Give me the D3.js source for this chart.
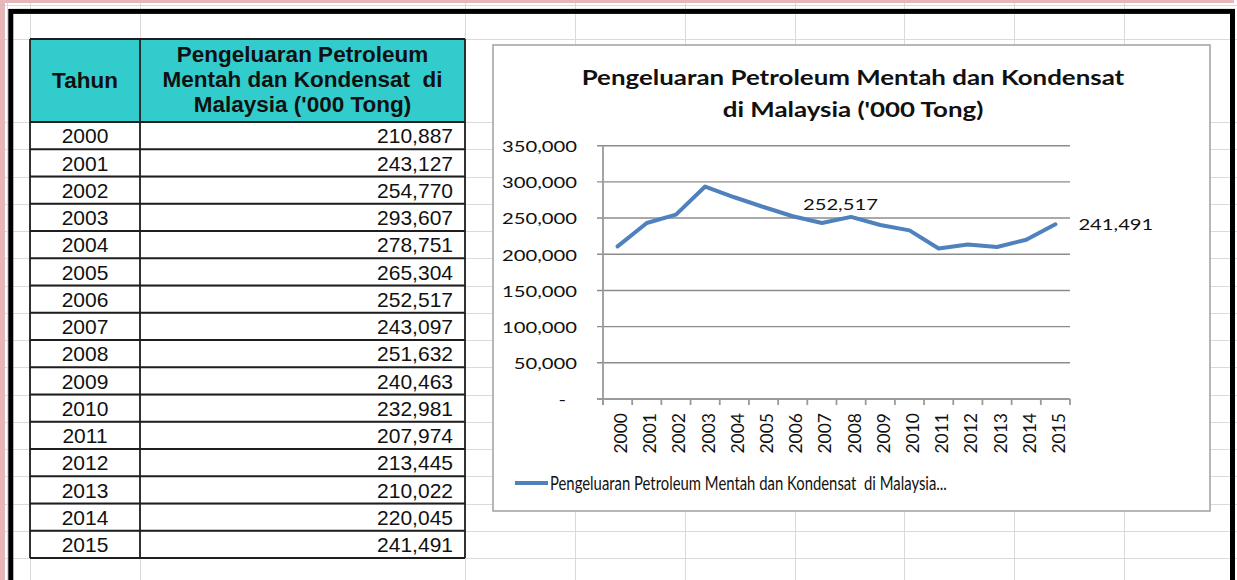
<!DOCTYPE html>
<html><head><meta charset="utf-8">
<script src="https://cdn.jsdelivr.net/npm/d3@7"></script>
<style>body{margin:0;background:#fff;} svg{display:block;} text{white-space:pre;}</style>
</head><body>
<svg id="c" width="1237" height="580"></svg>
<script>
// ---------- data ----------
const years = ["2000","2001","2002","2003","2004","2005","2006","2007","2008","2009","2010","2011","2012","2013","2014","2015"];
const values = [210887,243127,254770,293607,278751,265304,252517,243097,251632,240463,232981,207974,213445,210022,220045,241491];
const yTicks = [0,50000,100000,150000,200000,250000,300000,350000];
const yTickLabels = ["-","50,000","100,000","150,000","200,000","250,000","300,000","350,000"];
const headerYear = "Tahun";
const headerValue = ["Pengeluaran Petroleum","Mentah dan Kondensat  di","Malaysia ('000 Tong)"];
const chartTitle = ["Pengeluaran Petroleum Mentah dan Kondensat","di Malaysia ('000 Tong)"];
const legendLabel = "Pengeluaran Petroleum Mentah dan Kondensat  di Malaysia...";
const labelledYears = ["2006","2015"];

const fmt = d3.format(",");
const svg = d3.select("#c");
const CH = "Lato, 'Open Sans', sans-serif";
const TB = "'Liberation Sans', Arial, sans-serif";
const BLUE = "#4F81BD";

// ---------- spreadsheet background ----------
const grid = svg.append("g").attr("stroke","#dadada").attr("stroke-width",1);
[7,30,140,465,575,685,795,904,1014,1124].forEach(x=>grid.append("line").attr("x1",x+0.5).attr("x2",x+0.5).attr("y1",0).attr("y2",580));
const hRows=[5,39]; for(let i=0;i<=17;i++) hRows.push(122+i*27.25);
hRows.forEach(y=>grid.append("line").attr("x1",0).attr("x2",1237).attr("y1",Math.round(y)+0.5).attr("y2",Math.round(y)+0.5));
svg.append("rect").attr("x",0).attr("y",0).attr("width",1234).attr("height",3).attr("fill","#e6b7b9");
svg.append("rect").attr("x",0).attr("y",0).attr("width",5).attr("height",580).attr("fill","#e6b7b9");

// ---------- table ----------
const tX0=30, tX1=140, tX2=465, hTop=39, hBot=122, rH=27.25;
const tbl = svg.append("g");
tbl.append("rect").attr("x",tX0).attr("y",hTop).attr("width",tX2-tX0).attr("height",hBot-hTop).attr("fill","#33CCCC");
const nRows = years.length, tBot = hBot + nRows*rH;
const tl = tbl.append("g").attr("stroke","#1e1e1e").attr("stroke-width",1.8);
[hTop,hBot].concat(d3.range(1,nRows+1).map(i=>hBot+i*rH)).forEach(y=>tl.append("line").attr("x1",tX0).attr("x2",tX2).attr("y1",y).attr("y2",y));
[tX0,tX1,tX2].forEach(x=>tl.append("line").attr("x1",x).attr("x2",x).attr("y1",hTop).attr("y2",tBot));
tbl.append("text").attr("x",(tX0+tX1)/2).attr("y",88).attr("text-anchor","middle")
  .attr("font-family",TB).attr("font-weight","bold").attr("font-size",22.5).attr("fill","#111").text(headerYear);
headerValue.forEach((t,i)=>tbl.append("text").attr("x",(tX1+tX2)/2).attr("y",62+i*25).attr("text-anchor","middle")
  .attr("font-family",TB).attr("font-weight","bold").attr("font-size",22.5).attr("fill","#111").text(t));
years.forEach((yr,i)=>{
  const base = hBot+(i+1)*rH-6;
  tbl.append("text").attr("x",(tX0+tX1)/2).attr("y",base).attr("text-anchor","middle")
    .attr("font-family",TB).attr("font-size",21).attr("fill","#111").text(yr);
  tbl.append("text").attr("x",tX2-12).attr("y",base).attr("text-anchor","end")
    .attr("font-family",TB).attr("font-size",21).attr("fill","#111").text(fmt(values[i]));
});

// ---------- chart ----------
const box = {x:493,y:45,w:717,h:466};
svg.append("rect").attr("x",box.x).attr("y",box.y).attr("width",box.w).attr("height",box.h)
  .attr("fill","#fff").attr("stroke","#a6a6a6").attr("stroke-width",1.6);

function stretch(sel,k){ sel.each(function(){ const t=d3.select(this); const x=+t.attr("x"); t.attr("transform",`translate(${x},0) scale(${k},1) translate(${-x},0)`);}); }

// title
const tcx = box.x+box.w/2+1.5;
const t1 = svg.append("text").attr("x",tcx).attr("y",85).attr("text-anchor","middle").attr("font-family",CH)
  .attr("font-weight","bold").attr("font-size",20).attr("fill","#111").text(chartTitle[0]);
const t2 = svg.append("text").attr("x",tcx).attr("y",117).attr("text-anchor","middle").attr("font-family",CH)
  .attr("font-weight","bold").attr("font-size",20).attr("fill","#111").text(chartTitle[1]);
const kT = 543 / t1.node().getComputedTextLength();
stretch(t1,kT); stretch(t2,kT);

const x = d3.scaleBand().domain(years).range([603,1070]);
const y = d3.scaleLinear().domain([0,350000]).range([399,145.7]);

// gridlines
svg.append("g").selectAll("line").data(yTicks).join("line")
  .attr("x1",597).attr("x2",1070).attr("y1",d=>y(d)).attr("y2",d=>y(d))
  .attr("stroke","#8c8c8c").attr("stroke-width",1.4);

// y axis
const yAx = svg.append("g").attr("transform","translate(603,0)")
  .call(d3.axisLeft(y).tickValues(yTicks).tickFormat((d,i)=>yTickLabels[i]).tickSize(0).tickPadding(26));
yAx.select(".domain").remove();
yAx.selectAll("text").attr("font-family",CH).attr("font-size",16).attr("fill","#111").attr("dy","0.36em")
  .attr("x",d=>d===0?-37:-26);
const kY = 75 / yAx.selectAll("text").filter(d=>d===350000).node().getComputedTextLength();
stretch(yAx.selectAll("text"),kY);
svg.append("line").attr("x1",603).attr("x2",603).attr("y1",y(350000)).attr("y2",405).attr("stroke","#9a9a9a").attr("stroke-width",1.8);

// x axis
const xAx = svg.append("g").attr("transform","translate(0,399)")
  .call(d3.axisBottom(x).tickSize(0).tickFormat(d=>d));
xAx.select(".domain").remove();
xAx.selectAll(".tick text").attr("font-family",CH).attr("font-size",17.5).attr("fill","#111")
  .attr("text-anchor","end").attr("dy",null).attr("y",0)
  .attr("transform","translate(9.5,14) rotate(-90)");
svg.append("line").attr("x1",597).attr("x2",1070).attr("y1",399).attr("y2",399).attr("stroke","#9a9a9a").attr("stroke-width",1.8);
const edges = years.map(d=>x(d)).concat([x.range()[1]]);
svg.append("g").selectAll("line").data(edges).join("line")
  .attr("x1",d=>d).attr("x2",d=>d).attr("y1",399).attr("y2",405).attr("stroke","#9a9a9a").attr("stroke-width",1.8);

// series line
const pts = years.map((yr,i)=>({yr,v:values[i]}));
svg.append("path").datum(pts)
  .attr("d",d3.line().x(d=>x(d.yr)+x.bandwidth()/2).y(d=>y(d.v)))
  .attr("fill","none").attr("stroke",BLUE).attr("stroke-width",4).attr("stroke-linejoin","round").attr("stroke-linecap","round");

// data labels
const labOff = {"2006":{dx:47.7,dy:-6,anchor:"middle"},"2015":{dx:23,dy:6,anchor:"start"}};
labelledYears.forEach(yr=>{
  const i = years.indexOf(yr), o = labOff[yr];
  const lx = x(yr)+x.bandwidth()/2+o.dx, ly = y(values[i])+o.dy;
  const t = svg.append("text").attr("x",lx).attr("y",ly).attr("text-anchor",o.anchor)
    .attr("font-family",CH).attr("font-size",16).attr("fill","#111").text(fmt(values[i]));
  stretch(t,kY);
});

// legend
svg.append("line").attr("x1",515).attr("x2",548).attr("y1",483).attr("y2",483).attr("stroke",BLUE).attr("stroke-width",4);
const lg = svg.append("text").attr("x",550).attr("y",490).attr("font-family",CH).attr("font-size",19).attr("fill","#111").text(legendLabel);
stretch(lg, 397/lg.node().getComputedTextLength());

// outer black frame
svg.append("rect").attr("x",10.8).attr("y",11.4).attr("width",1221.7).attr("height",620)
  .attr("fill","none").attr("stroke","#000").attr("stroke-width",5);
</script>
</body></html>
